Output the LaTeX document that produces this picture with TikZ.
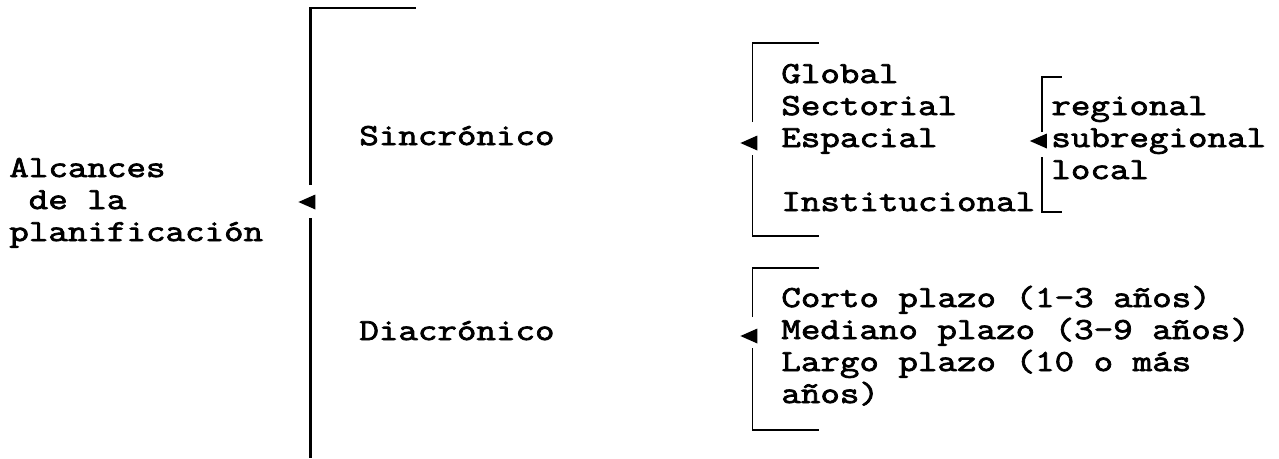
\documentclass[tikz,border=0pt]{standalone}
\usepackage{fontspec}
\setmonofont{Latin Modern Mono}[FakeBold=2.5, FakeStretch=1.24]
\usetikzlibrary{positioning,calc,shapes.geometric}

\begin{document}
\begin{tikzpicture}[
            x=0.02cm, y=-0.02cm,
            txt/.style={anchor=base west, inner sep=0pt,
                       text height=0.4cm, text depth=0.08cm,
                       font=\ttfamily\bfseries\fontsize{17.4}{20}\selectfont},
            pointer/.style={isosceles triangle, isosceles triangle stretches,
                       shape border rotate=180, fill, inner sep=0pt,
                       minimum width=0.3cm, minimum height=0.34cm},
            bracket/.style={line width=1.1pt}
        ]
            \useasboundingbox (0,0) rectangle (1279,458);

            % Title on the left
            \node[txt] (alcances) at (9,177) {Alcances};
            \node[txt] (dela) at (28.4,209) {de la};
            \node[txt] (planif) at (9,241) {planificación};

            % The two kinds of scope
            \node[txt] (sincronico) at (359,145) {Sincrónico};
            \node[txt] (diacronico) at (359,340) {Diacrónico};

            % Synchronic list
            \node[txt] (global) at (781,83) {Global};
            \node[txt] (sectorial) at (781,115) {Sectorial};
            \node[txt] (espacial) at (781,147) {Espacial};
            \node[txt] (institucional) at (781,211) {Institucional};

            % Spatial levels
            \node[txt] (regional) at (1051,115) {regional};
            \node[txt] (subregional) at (1051,147) {subregional};
            \node[txt] (local) at (1051,179) {local};

            % Diachronic list
            \node[txt] (corto) at (781,307) {Corto plazo (1-3 años)};
            \node[txt] (mediano) at (781,339) {Mediano plazo (3-9 años)};
            \node[txt] (largo) at (781,371) {Largo plazo (10 o más};
            \node[txt] (largob) at (781,403) {años)};

            % Pointers
            \node[pointer] (ptrmain) at (310.5,202) {};
            \node[pointer] (ptrsin) at (752.5,143) {};
            \node[pointer] (ptresp) at (1042,141) {};
            \node[pointer] (ptrdia) at (752.5,336) {};

            % Bracket ends
            \coordinate (maintop) at (416,8);
            \coordinate (mainend) at (310,458);
            \coordinate (sintop) at (819,43);
            \coordinate (sinbot) at (819,236);
            \coordinate (esptop) at (1062,77);
            \coordinate (espbot) at (1062,212);
            \coordinate (diatop) at (819,268);
            \coordinate (diabot) at (819,430);

            % Brackets
            \draw[bracket, line width=1.5pt] ($(ptrmain)+(0,-17)$) |- (maintop);
            \draw[bracket, line width=1.5pt] ($(ptrmain)+(0,16)$) -- (ptrmain |- mainend);
            \draw[bracket] ($(ptrsin)+(0,-21)$) |- (sintop);
            \draw[bracket] ($(ptrsin)+(0,12)$) |- (sinbot);
            \draw[bracket] ($(ptresp)+(0,-9)$) |- (esptop);
            \draw[bracket] ($(ptresp)+(0,16)$) |- (espbot);
            \draw[bracket] ($(ptrdia)+(0,-19)$) |- (diatop);
            \draw[bracket] ($(ptrdia)+(0,12)$) |- (diabot);
        \end{tikzpicture}
\end{document}
